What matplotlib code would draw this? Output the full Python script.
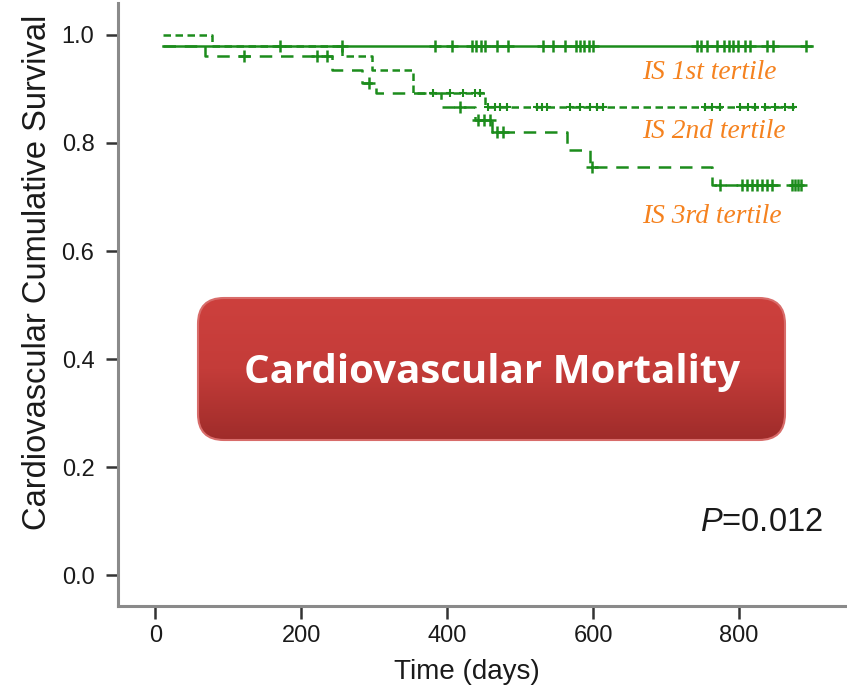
import numpy as np
import matplotlib
matplotlib.use('Agg')
import matplotlib.pyplot as plt
from matplotlib.patches import FancyBboxPatch
from matplotlib.colors import LinearSegmentedColormap

# Kaplan-Meier steps (days, survival)
g1_t = [10, 900]
g1_s = [0.98, 0.98]
g1_cens = [171, 256, 384, 407, 434, 440, 446, 452, 468, 484, 532, 545, 562,
           576, 582, 588, 594, 600, 742, 748, 756, 770, 780, 786, 792, 799,
           808, 815, 838, 846, 892]

g2_t = [10, 78, 256, 297, 353, 452, 880]
g2_s = [1.0, 0.98, 0.96, 0.935, 0.892, 0.867, 0.867]
g2_cens_t = [381, 404, 422, 438, 445,
             456, 466, 473, 482, 523, 530, 537, 568, 582, 596, 605, 614,
             753, 763, 774, 801, 812, 822, 836, 849, 863, 874]

g3_t = [10, 68, 242, 284, 303, 392, 438, 462, 564, 596, 763, 893]
g3_s = [0.98, 0.96, 0.935, 0.911, 0.892, 0.867, 0.843, 0.820, 0.787, 0.756,
        0.722, 0.722]
g3_cens_t = [121, 222, 235, 293, 418, 442, 451, 459, 468, 477, 599,
             774, 804, 811, 818, 825, 832, 838, 845, 873, 877, 881, 885]

group_labels = ['IS 1st tertile', 'IS 2nd tertile', 'IS 3rd tertile']
xticks = [0, 200, 400, 600, 800]
yticks = [0.0, 0.2, 0.4, 0.6, 0.8, 1.0]
p_text = '$P$=0.012'
banner = 'Cardiovascular Mortality'

green = '#1c8c1c'
orange = '#f5821f'

plt.rcParams['font.family'] = ['Liberation Sans', 'DejaVu Sans']
plt.rcParams['mathtext.fontset'] = 'custom'
plt.rcParams['mathtext.it'] = 'Liberation Sans:italic'
plt.rcParams['mathtext.rm'] = 'Liberation Sans'


def surv_at(times, surv, t):
    idx = np.searchsorted(times, t, side='right') - 1
    return np.asarray(surv)[np.clip(idx, 0, len(surv) - 1)]


fig = plt.figure(figsize=(8.47, 6.92), dpi=100)
ax = fig.add_axes([118 / 847, 1 - 606 / 692, 1 - 118 / 847, 603 / 692])

ax.step(g1_t, g1_s, where='post', color=green, lw=1.8)
ax.plot(g1_cens, surv_at(g1_t, g1_s, g1_cens), ls='none', marker='+',
        ms=8, mew=1.8, color=green)

l2, = ax.step(g2_t, g2_s, where='post', color=green, lw=1.8)
l2.set_dashes((3.0, 1.8))
ax.plot(g2_cens_t, surv_at(g2_t, g2_s, g2_cens_t), ls='none', marker='+',
        ms=6, mew=1.5, color=green)

l3, = ax.step(g3_t, g3_s, where='post', color=green, lw=1.8)
l3.set_dashes((5.0, 3.5))
ax.plot(g3_cens_t, surv_at(g3_t, g3_s, g3_cens_t), ls='none', marker='+',
        ms=8, mew=1.8, color=green)

ax.set_xlim(-51, 948)
ax.set_ylim(-0.057, 1.059)

for label, y in zip(group_labels, [0.931, 0.822, 0.663]):
    ax.text(667, y, label, color=orange, fontsize=19.8, style='italic',
            family=['Liberation Serif'], ha='left', va='center')

ax.text(747, 0.098, p_text, fontsize=23.5, ha='left', va='center', color='#1a1a1a')

for side in ['top', 'right']:
    ax.spines[side].set_visible(False)
for side in ['left', 'bottom']:
    ax.spines[side].set_color('#8a8a8a')
    ax.spines[side].set_linewidth(2.2)

ax.set_xticks(xticks)
ax.set_xticklabels([str(v) for v in xticks])
ax.set_yticks(yticks)
ax.set_yticklabels(['%.1f' % v for v in yticks])
ax.tick_params(axis='both', direction='out', length=9, width=1.8,
               color='#333333', labelsize=17, labelcolor='#1a1a1a')
ax.tick_params(axis='y', pad=8)
ax.tick_params(axis='x', pad=5)

ax.set_xlabel('Time (days)', fontsize=20, color='#1a1a1a')
ax.set_ylabel('Cardiovascular Cumulative Survival', fontsize=23.5, color='#1a1a1a')
ax.xaxis.set_label_coords((467 - 118) / 729, -(659 - 606) / 603)
ax.yaxis.set_label_coords(-(118 - 53) / 729, (606 - 272) / 603)

# red banner on top, drawn in pixel coordinates
ov = fig.add_axes([0, 0, 1, 1], facecolor='none')
ov.set_xlim(0, 847)
ov.set_ylim(692, 0)
ov.axis('off')
box = FancyBboxPatch((198, 298), 587, 142, boxstyle='round,pad=0,rounding_size=26',
                     facecolor='none', edgecolor='#d86c6a', lw=1.5, zorder=3)
ov.add_patch(box)
cmap = LinearSegmentedColormap.from_list('redgrad', ['#cd403d', '#c43c39', '#9f2c2a'])
grad = np.linspace(0, 1, 256).reshape(-1, 1)
im = ov.imshow(grad, cmap=cmap, extent=[198, 785, 440, 298], origin='upper',
               aspect='auto', zorder=2)
im.set_clip_path(box)
ov.text(492, 372, banner, color='white', fontsize=29, fontweight='bold',
        family=['Open Sans', 'DejaVu Sans'], ha='center', va='center', zorder=4)

fig.savefig('out.png', dpi=100)
